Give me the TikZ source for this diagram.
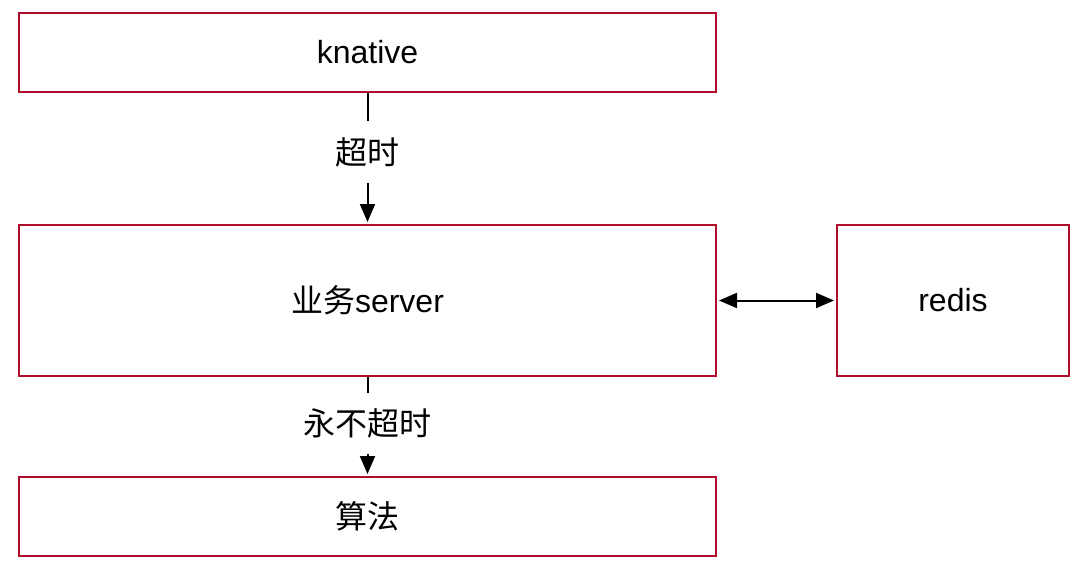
\documentclass[tikz,border=0pt]{standalone}
\usepackage{fontspec}
\setmainfont{Liberation Sans}
\newfontfamily\cjk{Noto Sans CJK SC}
\usetikzlibrary{arrows.meta}
\definecolor{boxred}{RGB}{178,12,44}
\begin{document}
\begin{tikzpicture}[x=0.5pt,y=-0.5pt,
  box/.style={draw=boxred,line width=1pt,fill=white,inner sep=0pt,font=\fontsize{16}{19}\selectfont},
  flow/.style={line width=1pt,-{Triangle[length=9pt,width=7.5pt]}},
  tag/.style={fill=white,inner xsep=2pt,inner ysep=8pt,font=\cjk\fontsize{16}{19}\selectfont}]
\useasboundingbox (0,0) rectangle (1084,574);
\node (knative) at (367.5,52.5) [box,minimum width=348.5pt,minimum height=39.5pt] {knative};
\node (server) at (367.5,300.5) [box,minimum width=348.5pt,minimum height=75.5pt] {{\cjk 业务}server};
\node (redis) at (953,300.5) [box,minimum width=116pt,minimum height=75.5pt] {redis};
\node (algo) at (367.5,516.5) [box,minimum width=348.5pt,minimum height=39.5pt] {\cjk 算法};
\draw[flow,shorten >=1pt] (knative) -- node[tag,pos=0.45] {超时} (server);
\draw[flow,shorten >=1pt] (server) -- node[tag,pos=0.47] {永不超时} (algo);
\draw[flow,{Triangle[length=9pt,width=7.5pt]}-{Triangle[length=9pt,width=7.5pt]},shorten <=1pt,shorten >=1pt] (server) -- (redis);
\end{tikzpicture}
\end{document}
